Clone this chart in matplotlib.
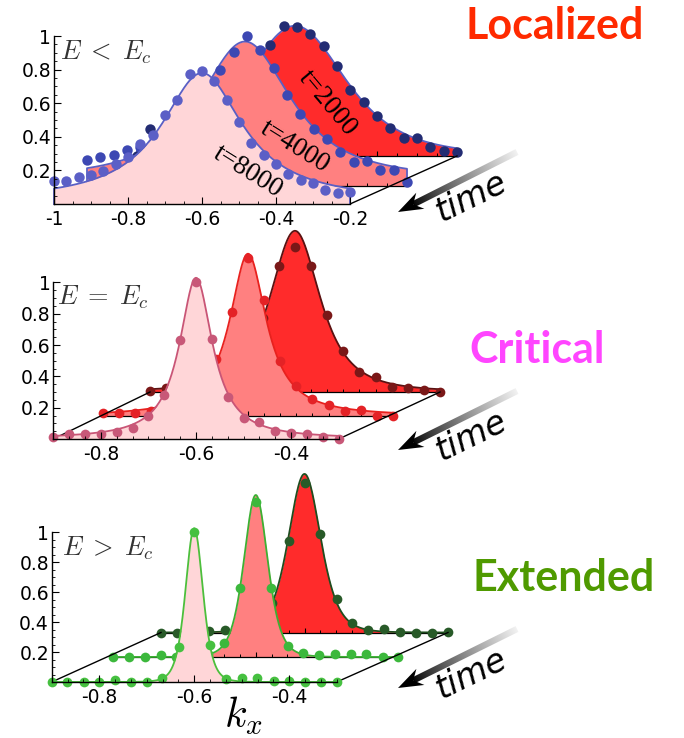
import numpy as np
import matplotlib
matplotlib.use("Agg")
import matplotlib.pyplot as plt
from matplotlib.patches import Polygon

plt.rcParams['axes.unicode_minus'] = False
plt.rcParams['mathtext.fontset'] = 'cm'

W, H, DPI = 684, 738, 100

# ---------------- data ----------------
layer_names = ["t=2000", "t=4000", "t=8000"]          # back, middle, front

# Localized (E < Ec)
kx_loc = [-1.0, -0.967, -0.933, -0.9, -0.867, -0.833, -0.8, -0.767, -0.733, -0.7,
          -0.667, -0.633, -0.6, -0.567, -0.533, -0.5, -0.467, -0.433, -0.4, -0.367,
          -0.333, -0.3, -0.267, -0.233, -0.2]
loc_t8000 = [0.139, 0.139, 0.159, 0.173, 0.198, 0.238, 0.282, 0.357, 0.41, 0.53,
             0.62, 0.772, 0.794, 0.734, 0.62, 0.49, 0.365, 0.29, 0.24, 0.18,
             0.143, 0.123, 0.083, 0.067, 0.073]
loc_t4000 = [0.155, 0.17, 0.186, 0.214, 0.23, 0.26, 0.31, 0.38, 0.47, 0.58,
             0.69, 0.80, 0.89, 0.81, 0.70, 0.54, 0.43, 0.34, 0.28, 0.20,
             0.145, 0.15, 0.095, 0.095, 0.026]
loc_t2000 = [0.0, 0.16, 0.08, 0.11, 0.15, 0.20, 0.26, 0.33, 0.42, 0.52,
             0.66, 0.774, 0.77, 0.726, 0.655, 0.536, 0.39, 0.32, 0.24, 0.165,
             0.105, 0.105, 0.055, 0.032, 0.026]
# fitted profiles: [center, height, width, exponent, floor]
loc_fit_t2000 = [-0.605, 0.775, 0.23, 2.0, 0.0]
loc_fit_t4000 = [-0.605, 0.82, 0.162, 1.3, 0.04]
loc_fit_t8000 = [-0.6, 0.765, 0.134, 1.0, 0.015]

# Critical (E = Ec)
kx_crit = [-0.9, -0.867, -0.833, -0.8, -0.767, -0.733, -0.7, -0.667, -0.633, -0.6,
           -0.567, -0.533, -0.5, -0.467, -0.433, -0.4, -0.367, -0.333, -0.3]
crit_t8000 = [0.015, 0.035, 0.035, 0.035, 0.043, 0.072, 0.146, 0.278, 0.63, 1.0,
              0.636, 0.267, 0.135, 0.11, 0.05, 0.04, 0.035, 0.014, 0.0]
crit_t4000 = [0.02, 0.02, 0.025, 0.035, 0.06, 0.10, 0.17, 0.365, 0.666, 1.01,
              0.744, 0.355, 0.197, 0.112, 0.073, 0.037, 0.042, 0.0, 0.0]
crit_t2000 = [0.006, 0.024, 0.035, 0.053, 0.083, 0.13, 0.25, 0.47, 0.807, 0.928,
              0.807, 0.49, 0.262, 0.126, 0.098, 0.034, 0.027, 0.013, 0.0]
crit_fit_t2000 = [-0.6, 1.03, 0.08, 1.5, 0.0]
crit_fit_t4000 = [-0.6, 1.04, 0.046, 1.0, 0.0]
crit_fit_t8000 = [-0.6, 1.03, 0.042, 1.0, 0.0]

# Extended (E > Ec)
kx_ext = kx_crit
ext_t8000 = [0.0, 0.0, 0.0, 0.0, 0.015, 0.0, 0.0, 0.025, 0.235, 1.0,
             0.25, 0.02, 0.025, 0.025, 0.005, 0.005, 0.0, 0.0, 0.0]
ext_t4000 = [0.0, 0.0, 0.0, 0.013, 0.0, 0.005, 0.02, 0.095, 0.458, 1.035,
             0.458, 0.073, 0.029, 0.013, 0.02, 0.02, 0.02, 0.0, 0.0]
ext_t2000 = [0.0, 0.0, 0.005, 0.012, 0.02, 0.018, 0.057, 0.2, 0.612, 0.995,
             0.655, 0.221, 0.061, 0.017, 0.021, 0.005, 0.0, 0.0, 0.005]
ext_fit_t2000 = [-0.6, 1.057, 0.078, 3.0, 0.0]
ext_fit_t4000 = [-0.6, 1.08, 0.058, 3.0, 0.0]
ext_fit_t8000 = [-0.6, 1.025, 0.0425, 3.0, 0.0]

y_ticks = [0.2, 0.4, 0.6, 0.8, 1.0]
y_ticklabels = ["0.2", "0.4", "0.6", "0.8", "1"]
loc_xticks = [-1.0, -0.8, -0.6, -0.4, -0.2]
loc_xticklabels = ["-1", "-0.8", "-0.6", "-0.4", "-0.2"]
ce_xticks = [-0.8, -0.6, -0.4]
ce_xticklabels = ["-0.8", "-0.6", "-0.4"]

regime_titles = ["Localized", "Critical", "Extended"]
energy_labels = [r"$E\;<\;E_c$", r"$E\;=\;E_c$", r"$E\;>\;E_c$"]


def profile(k, c, a, w, p, f):
    return f + a / (1.0 + ((k - c) / w) ** 2) ** p


fill_colors = ["#ff2b2b", "#ff8080", "#ffd6d8"]

panels = [
    dict(kx=kx_loc, vals=[loc_t2000, loc_t4000, loc_t8000],
         fits=[loc_fit_t2000, loc_fit_t4000, loc_fit_t8000],
         krange=(-1.0, -0.2), sy=168.0,
         geom=[(137, 457, 156), (87, 407, 186), (54, 350, 204)],
         lines=["#5a5fc4", "#5a5fc4", "#5a5fc4"],
         dots=["#232c73", "#3d48b3", "#5b5fc6"], ms=7.5,
         xticks=loc_xticks, xlabels=loc_xticklabels,
         minor=np.arange(-1.0, -0.199, 0.05), left_diag=False),
    dict(kx=kx_crit, vals=[crit_t2000, crit_t4000, crit_t8000],
         fits=[crit_fit_t2000, crit_fit_t4000, crit_fit_t8000],
         krange=(-0.9, -0.3), sy=156.5,
         geom=[(150, 440, 392), (103, 393, 416.5), (53.3, 338.7, 439)],
         lines=["#5a1212", "#e8211e", "#c95576"],
         dots=["#7a1818", "#e42226", "#c85878"], ms=7,
         xticks=ce_xticks, xlabels=ce_xticklabels,
         minor=np.arange(-0.9, -0.299, 1 / 30), left_diag=True),
    dict(kx=kx_ext, vals=[ext_t2000, ext_t4000, ext_t8000],
         fits=[ext_fit_t2000, ext_fit_t4000, ext_fit_t8000],
         krange=(-0.9, -0.3), sy=150.0,
         geom=[(161, 448, 632.5), (113.3, 398.3, 657), (51.7, 336.7, 682)],
         lines=["#1f4d1f", "#3cb033", "#4cbf3c"],
         dots=["#285a28", "#3cb83c", "#46c040"], ms=7,
         xticks=ce_xticks, xlabels=ce_xticklabels,
         minor=np.arange(-0.9, -0.299, 1 / 30), left_diag=True),
]

fig = plt.figure(figsize=(W / DPI, H / DPI), dpi=DPI)

for P in panels:
    ax = fig.add_axes([0, 0, 1, 1])
    ax.patch.set_alpha(0)
    kmin, kmax = P['krange']
    Lf, Rf, Bf = P['geom'][2]
    sx = (Rf - Lf) / (kmax - kmin)
    sy = P['sy']

    def k_of_px(px):
        return kmin + (px - Lf) / sx

    def v_of_py(py):
        return (Bf - py) / sy

    ax.set_xlim(k_of_px(0), k_of_px(W))
    ax.set_ylim(v_of_py(H), v_of_py(0))

    tfs = []
    for j, (L, R, B) in enumerate(P['geom']):
        def tx(k, L=L, R=R):
            return k_of_px(L + (np.asarray(k) - kmin) * (R - L) / (kmax - kmin))

        def ty(v, B=B):
            return v_of_py(B) + np.asarray(v)
        tfs.append((tx, ty))
        z = 10 * (j + 1)
        kk = np.linspace(kmin, kmax, 500)
        vv = profile(kk, *P['fits'][j])
        ax.fill_between(tx(kk), ty(0), ty(vv), color=fill_colors[j], lw=0, zorder=z)
        xs = np.concatenate([[tx(kmin)], tx(kk), [tx(kmax)]])
        ys = np.concatenate([[ty(0)], ty(vv), [ty(0)]])
        ax.plot(xs, ys, color=P['lines'][j], lw=1.3, zorder=z + 3,
                solid_joinstyle='round')
        if j < 2:
            ax.plot([tx(kmin), tx(kmax)], [ty(0), ty(0)], color='k', lw=0.9, zorder=z + 2)
            mk = P['minor']
            ax.vlines(tx(mk), ty(0), ty(0) + 3.0 / sy, color='k', lw=0.7, zorder=z + 2)
            ax.vlines(tx(np.array(P['xticks'])), ty(0), ty(0) + 5.0 / sy,
                      color='k', lw=0.8, zorder=z + 2)
        ax.plot(tx(P['kx']), ty(P['vals'][j]), 'o', ms=P['ms'], color=P['dots'][j],
                mec='none', zorder=z + 4)

    # connecting floor lines
    txb, tyb = tfs[0]
    txf, tyf = tfs[2]
    ax.plot([txf(kmax), txb(kmax)], [tyf(0), tyb(0)], color='k', lw=1.0, zorder=25)
    if P['left_diag']:
        ax.plot([txf(kmin), txb(kmin)], [tyf(0), tyb(0)], color='k', lw=1.0, zorder=25)

    for s in ['top', 'right']:
        ax.spines[s].set_visible(False)
    ax.spines['left'].set_position(('data', kmin))
    ax.spines['left'].set_bounds(0, 1)
    ax.spines['bottom'].set_position(('data', 0))
    ax.spines['bottom'].set_bounds(kmin, kmax)
    for s in ['left', 'bottom']:
        ax.spines[s].set_zorder(60)
        ax.spines[s].set_linewidth(1.0)
    ax.xaxis.set_zorder(60)
    ax.yaxis.set_zorder(60)
    ax.set_xticks(P['xticks'])
    ax.set_xticklabels(P['xlabels'])
    ax.set_xticks(P['minor'], minor=True)
    ax.set_yticks(y_ticks)
    ax.set_yticklabels(y_ticklabels)
    ax.set_yticks(np.arange(0.05, 1.0, 0.05), minor=True)
    ax.tick_params(which='major', direction='in', length=5, width=0.8,
                   labelsize=13.5, colors='k')
    ax.tick_params(which='minor', direction='in', length=2.5, width=0.6)
    ax.tick_params(axis='y', pad=2)
    ax.tick_params(axis='x', pad=4)

# ---------------- annotations (pixel coordinates) ----------------
ao = fig.add_axes([0, 0, 1, 1])
ao.patch.set_alpha(0)
ao.axis('off')
ao.set_zorder(10)

title_colors = ["#ff2a00", "#ff45ff", "#4f9a00"]
title_pos = [(555, 26), (537, 350), (564, 578)]
for t, c, (x, y) in zip(regime_titles, title_colors, title_pos):
    ao.text(x, y, t, color=c, fontsize=31, fontfamily='Lato', fontweight='bold',
            ha='center', va='center')

elab_pos = [(106, 52), (103, 297), (108, 548)]
for t, (x, y) in zip(energy_labels, elab_pos):
    ao.text(x, y, t, fontsize=19, color='#333333', ha='center', va='center')

tlab = [("t=2000", 327, 103, -50), ("t=4000", 295, 147, -32), ("t=8000", 248, 172, -32)]
for t, x, y, r in tlab:
    ao.text(x, y, t, fontsize=19.5, fontfamily='Liberation Serif', rotation=r,
            rotation_mode='anchor', ha='center', va='center', color='k')

ao.text(243, 716, r"$k_x$", fontsize=30, ha='center', va='center')

arrows = [((517, 152), (398, 212), (472, 197)),
          ((517, 391), (398, 450), (472, 436)),
          ((517, 629), (398, 688), (472, 674))]
for (tx0, ty0), (hx, hy), (lx, ly) in arrows:
    d = np.array([tx0 - hx, ty0 - hy], float)
    dl = np.hypot(*d)
    u = d / dl
    n = np.array([-u[1], u[0]])
    tip = np.array([hx, hy], float)
    notch = tip + 17 * u
    tail = tip + dl * u
    half = 3.2
    shaft = Polygon([notch + half * n, tail + half * n, tail - half * n, notch - half * n],
                    closed=True, facecolor='none', edgecolor='none', transform=ao.transData)
    ao.add_patch(shaft)
    x0, x1 = int(min(notch[0], tail[0]) - 6), int(max(notch[0], tail[0]) + 6)
    y0, y1 = int(min(notch[1], tail[1]) - 6), int(max(notch[1], tail[1]) + 6)
    gx, gy = np.meshgrid(np.arange(x0, x1) + 0.5, np.arange(y0, y1) + 0.5)
    t = ((gx - notch[0]) * u[0] + (gy - notch[1]) * u[1]) / (dl - 17)
    t = np.clip(t, 0, 1)
    g = 0.95 * t ** 0.8
    img = np.dstack([g, g, g, np.ones_like(g)])
    im = ao.imshow(img, extent=(x0, x1, y1, y0), origin='upper', aspect='auto',
                   interpolation='bilinear', zorder=5)
    im.set_clip_path(shaft)
    head = [tip, tip + 25 * u + 9 * n, notch, tip + 25 * u - 9 * n]
    ao.add_patch(Polygon(head, closed=True, color='k', lw=0, zorder=6))
    ao.text(lx, ly, "time", fontsize=24, style='italic', rotation=26,
            rotation_mode='anchor', ha='center', va='center', color='k')

ao.set_xlim(0, W)
ao.set_ylim(H, 0)

fig.savefig("out.png", dpi=DPI)
